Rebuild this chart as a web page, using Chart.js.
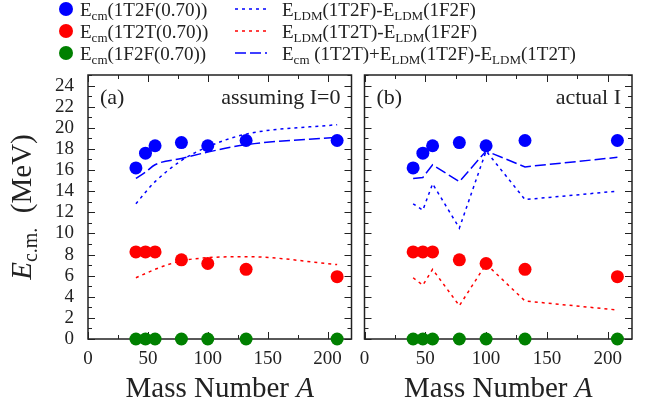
<!DOCTYPE html>
<html>
<head>
<meta charset="utf-8">
<script src="https://cdn.jsdelivr.net/npm/chart.js@4.4.1/dist/chart.umd.min.js"></script>
<style>
  body { margin: 0; background: #fff; }
  #wrap { position: relative; width: 657px; height: 409px; overflow: hidden; background: #fff;
          font-family: 'Liberation Serif', 'DejaVu Serif', serif; color: #222; }
  #panelA { position: absolute; left: 0; top: 0; }
  #panelB { position: absolute; left: 358px; top: 0; }
  .leg { position: absolute; font-size: 19px; line-height: 20px; white-space: nowrap; }
  .leg .sub { font-size: 13px; position: relative; top: 4px; }
  .dot { position: absolute; width: 14px; height: 14px; border-radius: 50%; }
</style>
</head>
<body>
<div id="wrap">
  <canvas id="panelA" width="358" height="409"></canvas>
  <canvas id="panelB" width="299" height="409"></canvas>
  <div id="legend"></div>
</div>
<script>
// mass numbers of the nuclei
const massNumbers = [40, 48, 56, 78, 100, 132, 208];

// measured points (same in both panels)
const ecm1T2F = [16.2, 17.6, 18.3, 18.6, 18.3, 18.8, 18.8];
const ecm1T2T = [8.25, 8.25, 8.25, 7.5, 7.15, 6.6, 5.9];
const ecm1F2F = [0, 0, 0, 0, 0, 0, 0];

// panel (a): assuming I=0
const ldm1T2F_a = [12.8, 13.9, 14.9, 16.9, 18.2, 19.4, 20.3];
const ldm1T2T_a = [5.8, 6.2, 6.6, 7.4, 7.7, 7.8, 7.05];
const ecmSum_a = [15.2, 15.8, 16.5, 17.1, 17.7, 18.4, 19.1];

// panel (b): actual I
const ldm1T2F_b = [12.8, 12.2, 14.7, 10.5, 17.8, 13.2, 14.0];
const ldm1T2T_b = [5.8, 5.1, 6.6, 3.15, 7.1, 3.6, 2.75];
const ecmSum_b = [15.2, 15.3, 16.5, 14.9, 17.8, 16.3, 17.2];

const xTicks = [0, 50, 100, 150, 200];
const yTicks = [0, 2, 4, 6, 8, 10, 12, 14, 16, 18, 20, 22, 24];

const labels = {
  p1T2F: 'E_{cm}(1T2F(0.70))',
  p1T2T: 'E_{cm}(1T2T(0.70))',
  p1F2F: 'E_{cm}(1F2F(0.70))',
  l1T2F: 'E_{LDM}(1T2F)-E_{LDM}(1F2F)',
  l1T2T: 'E_{LDM}(1T2T)-E_{LDM}(1F2F)',
  lSum: 'E_{cm} (1T2T)+E_{LDM}(1T2F)-E_{LDM}(1T2T)'
};

const FONT = "'Liberation Serif', 'DejaVu Serif', serif";
const INK = '#222';
const DOTTED = [3, 4];
const DASHED = [11, 4];

const xy = vals => massNumbers.map((a, i) => ({ x: a, y: vals[i] }));

function pointSet(label, vals, color) {
  return { label, data: xy(vals), showLine: false, pointRadius: 6.5, pointHoverRadius: 6.5,
    pointBackgroundColor: color, pointBorderWidth: 0, order: 0, clip: false };
}
function lineSet(label, vals, color, dash, smooth) {
  return { label, data: xy(vals), showLine: true, borderColor: color, borderWidth: 1.5,
    borderDash: dash, pointRadius: 0, fill: false, order: 1,
    cubicInterpolationMode: smooth ? 'monotone' : 'default' };
}

// frame, inward ticks and texts of each panel
const panelDeco = {
  id: 'panelDeco',
  beforeDatasetsDraw(chart, args, opts) {
    const { ctx, chartArea: ca, scales } = chart;
    ctx.save();
    ctx.strokeStyle = INK;
    ctx.lineWidth = 1.5;
    ctx.strokeRect(ca.left, ca.top, ca.right - ca.left, ca.bottom - ca.top);
    ctx.lineWidth = 1;
    ctx.beginPath();
    for (let v = 0; v <= 220; v += 25) {
      const px = Math.round(scales.x.getPixelForValue(v)) + 0.5;
      const len = v % 50 === 0 ? 7 : 4;
      ctx.moveTo(px, ca.bottom); ctx.lineTo(px, ca.bottom - len);
      ctx.moveTo(px, ca.top); ctx.lineTo(px, ca.top + len);
    }
    for (let v = 0; v <= 25; v += 1) {
      const py = Math.round(scales.y.getPixelForValue(v)) + 0.5;
      const len = v % 2 === 0 ? 7 : 4;
      ctx.moveTo(ca.left, py); ctx.lineTo(ca.left + len, py);
      ctx.moveTo(ca.right, py); ctx.lineTo(ca.right - len, py);
    }
    ctx.stroke();
    ctx.restore();
  },
  afterDraw(chart, args, opts) {
    const { ctx, chartArea: ca } = chart;
    ctx.save();
    ctx.fillStyle = INK;
    ctx.textBaseline = 'alphabetic';
    ctx.font = `22px ${FONT}`;
    ctx.textAlign = 'left';
    ctx.fillText(opts.tag, ca.left + 12, 104);
    ctx.textAlign = 'right';
    ctx.fillText(opts.note, ca.right - 11, 104);

    // x title: Mass Number A
    const cx = (ca.left + ca.right) / 2;
    ctx.font = `29px ${FONT}`;
    const w1 = ctx.measureText('Mass Number ').width;
    ctx.font = `italic 29px ${FONT}`;
    const w2 = ctx.measureText('A').width;
    ctx.textAlign = 'left';
    ctx.font = `29px ${FONT}`;
    ctx.fillText('Mass Number ', cx - (w1 + w2) / 2, 397);
    ctx.font = `italic 29px ${FONT}`;
    ctx.fillText('A', cx - (w1 + w2) / 2 + w1, 397);

    if (opts.yTitle) {
      const parts = [
        { t: 'E', f: `italic 29px ${FONT}`, dy: 0 },
        { t: 'c.m.', f: `20px ${FONT}`, dy: 6 },
        { t: '  (MeV)', f: `29px ${FONT}`, dy: 0 }
      ];
      let total = 0;
      parts.forEach(p => { ctx.font = p.f; p.w = ctx.measureText(p.t).width; total += p.w; });
      ctx.translate(31, (ca.top + ca.bottom) / 2);
      ctx.rotate(-Math.PI / 2);
      let x = -total / 2;
      parts.forEach(p => { ctx.font = p.f; ctx.fillText(p.t, x, p.dy); x += p.w; });
    }
    ctx.restore();
  }
};

function makeOptions(side) {
  const isA = side === 'a';
  return {
    responsive: false,
    animation: false,
    devicePixelRatio: 1,
    layout: { padding: isA ? { top: 75, right: 2, left: 0, bottom: 0 }
                           : { top: 75, right: 25, left: 5, bottom: 0 } },
    plugins: {
      legend: { display: false },
      tooltip: { enabled: false },
      panelDeco: isA ? { tag: '(a)', note: 'assuming I=0', yTitle: true }
                     : { tag: '(b)', note: 'actual I', yTitle: false }
    },
    scales: {
      x: {
        type: 'linear', min: 0, max: 220,
        grid: { display: false, drawTicks: false },
        border: { display: false },
        afterBuildTicks: s => { s.ticks = xTicks.map(v => ({ value: v })); },
        afterFit: s => { s.height = 70; s.paddingLeft = 0; s.paddingRight = 0; },
        ticks: { font: { family: FONT, size: 19 }, color: INK, padding: 9, maxRotation: 0, autoSkip: false }
      },
      y: {
        type: 'linear', min: 0, max: 25, display: isA,
        grid: { display: false, drawTicks: false },
        border: { display: false },
        afterBuildTicks: s => { s.ticks = yTicks.map(v => ({ value: v })); },
        afterFit: s => { s.width = isA ? 88 : 0; s.paddingTop = 0; s.paddingBottom = 0; },
        ticks: { font: { family: FONT, size: 19 }, color: INK, padding: 14, autoSkip: false }
      }
    }
  };
}

function panelData(ldm1T2F, ldm1T2T, ecmSum, smooth) {
  return {
    datasets: [
      pointSet(labels.p1T2F, ecm1T2F, '#0000ff'),
      pointSet(labels.p1T2T, ecm1T2T, '#ff0000'),
      pointSet(labels.p1F2F, ecm1F2F, '#008000'),
      lineSet(labels.l1T2F, ldm1T2F, '#0000ff', DOTTED, smooth),
      lineSet(labels.l1T2T, ldm1T2T, '#ff0000', DOTTED, smooth),
      lineSet(labels.lSum, ecmSum, '#0000ff', DASHED, smooth)
    ]
  };
}

const chartA = new Chart(document.getElementById('panelA'), {
  type: 'scatter',
  data: panelData(ldm1T2F_a, ldm1T2T_a, ecmSum_a, true),
  options: makeOptions('a'),
  plugins: [panelDeco]
});

const chartB = new Chart(document.getElementById('panelB'), {
  type: 'scatter',
  data: panelData(ldm1T2F_b, ldm1T2T_b, ecmSum_b, false),
  options: makeOptions('b'),
  plugins: [panelDeco]
});

// legend above both panels, built from the datasets of panel (a)
function subHtml(s) {
  return s.replace(/_\{([^}]*)\}/g, '<span class="sub">$1</span>');
}
const legend = document.getElementById('legend');
const rowsY = [9, 31, 53];
chartA.data.datasets.forEach((ds, i) => {
  const row = i % 3;
  const y = rowsY[row];
  const text = document.createElement('div');
  text.className = 'leg';
  text.innerHTML = subHtml(ds.label);
  if (!ds.showLine) {
    const dot = document.createElement('div');
    dot.className = 'dot';
    dot.style.left = '59px';
    dot.style.top = (y - 7) + 'px';
    dot.style.background = ds.pointBackgroundColor;
    legend.appendChild(dot);
    text.style.left = '80px';
  } else {
    const svg = document.createElementNS('http://www.w3.org/2000/svg', 'svg');
    svg.setAttribute('width', '34');
    svg.setAttribute('height', '6');
    svg.style.position = 'absolute';
    svg.style.left = '234px';
    svg.style.top = (y - 3) + 'px';
    const ln = document.createElementNS('http://www.w3.org/2000/svg', 'line');
    ln.setAttribute('x1', '1'); ln.setAttribute('x2', '33');
    ln.setAttribute('y1', '3'); ln.setAttribute('y2', '3');
    ln.setAttribute('stroke', ds.borderColor);
    ln.setAttribute('stroke-width', '1.6');
    ln.setAttribute('stroke-dasharray', ds.borderDash.join(' '));
    svg.appendChild(ln);
    legend.appendChild(svg);
    text.style.left = '282px';
  }
  text.style.top = (y - 9) + 'px';
  legend.appendChild(text);
});
</script>
</body>
</html>
